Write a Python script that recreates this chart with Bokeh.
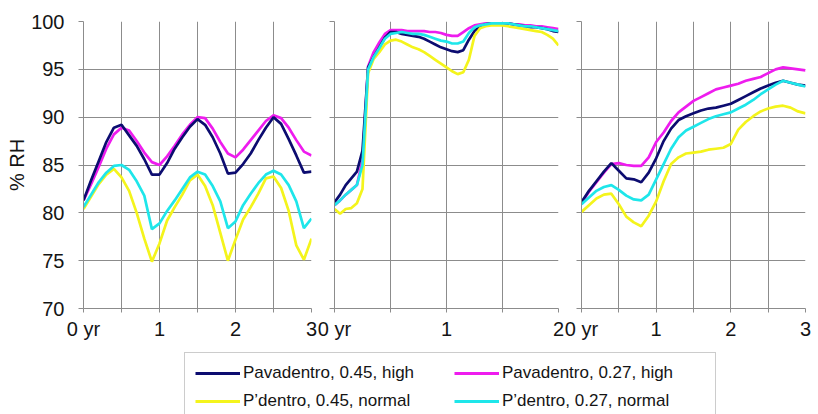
from bokeh.plotting import figure
from bokeh.models import Range1d, FixedTicker, Legend, LegendItem, CustomJSTickFormatter
from bokeh.layouts import row, column
from bokeh.embed import file_html
from bokeh.resources import INLINE

# ---------------- data ----------------
series_names = ["Pavadentro, 0.45, high", "Pavadentro, 0.27, high",
                "P\u2019dentro, 0.45, normal", "P\u2019dentro, 0.27, normal"]
y_ticks = [70, 75, 80, 85, 90, 95, 100]

# panel 1 (years 0-3)
t1 = [round(0.1 * i, 2) for i in range(31)]
navy1 = [81.3, 83.4, 85.4, 87.4, 88.9, 89.2, 88.1, 87.0, 85.6, 84.0, 84.0,
         85.2, 86.7, 87.9, 89.0, 89.8, 89.2, 87.9, 86.2, 84.1, 84.2,
         85.1, 86.2, 87.6, 88.9, 90.0, 89.3, 87.7, 86.0, 84.2, 84.3]
magenta1 = [81.3, 83.0, 84.8, 86.7, 88.2, 88.9, 88.6, 87.5, 86.3, 85.3, 85.0,
            85.9, 87.0, 88.2, 89.2, 90.0, 89.9, 88.8, 87.4, 86.2, 85.8,
            86.6, 87.6, 88.6, 89.6, 90.2, 89.9, 88.9, 87.6, 86.4, 86.0]
yellow1 = [80.4, 81.7, 83.0, 84.0, 84.6, 83.7, 82.3, 80.0, 77.3, 74.9, 76.8,
           79.2, 80.6, 81.9, 83.4, 84.0, 82.8, 80.8, 77.9, 75.0, 77.2,
           79.3, 80.6, 82.0, 83.6, 83.8, 82.6, 80.2, 76.6, 75.1, 77.3]
cyan1 = [80.6, 81.9, 83.2, 84.2, 84.9, 85.0, 84.5, 83.3, 81.8, 78.3, 78.9,
         80.2, 81.3, 82.5, 83.7, 84.3, 84.0, 82.8, 81.2, 78.4, 79.1,
         80.8, 82.0, 83.1, 84.0, 84.4, 84.0, 82.9, 81.2, 78.4, 79.4]

# panel 2 (years 0-2)
t2 = [round(0.05 * i, 2) for i in range(41)]
navy2 = [81.1, 81.9, 82.9, 83.6, 84.3, 86.5, 95.2, 96.3, 97.3, 98.3,
         98.9, 98.9, 98.7, 98.6, 98.5, 98.4, 98.2, 97.9, 97.6, 97.3,
         97.1, 96.9, 96.8, 97.0, 98.1, 99.0, 99.5, 99.7, 99.8, 99.8,
         99.8, 99.8, 99.7, 99.6, 99.5, 99.4, 99.4, 99.3, 99.2, 99.0, 98.9]
magenta2 = [80.8, 81.3, 81.9, 82.4, 82.9, 85.5, 95.3, 96.8, 97.8, 98.7,
            99.1, 99.1, 99.1, 99.0, 99.0, 99.0, 99.0, 98.9, 98.9, 98.8,
            98.6, 98.5, 98.5, 98.9, 99.3, 99.6, 99.7, 99.8, 99.8, 99.8,
            99.8, 99.8, 99.7, 99.7, 99.6, 99.6, 99.5, 99.5, 99.4, 99.3, 99.2]
yellow2 = [80.4, 79.9, 80.4, 80.5, 81.0, 82.5, 94.6, 96.1, 96.8, 97.6,
           98.0, 98.1, 97.9, 97.6, 97.3, 97.1, 96.8, 96.4, 96.0, 95.6,
           95.2, 94.8, 94.5, 94.7, 96.0, 98.5, 99.3, 99.5, 99.6, 99.6,
           99.6, 99.5, 99.4, 99.3, 99.2, 99.1, 99.0, 98.9, 98.6, 98.2, 97.5]
cyan2 = [80.8, 81.3, 81.9, 82.4, 82.9, 85.0, 95.0, 96.3, 97.2, 98.2,
         98.7, 98.8, 98.9, 98.8, 98.7, 98.7, 98.6, 98.4, 98.2, 98.0,
         97.9, 97.7, 97.7, 97.9, 98.8, 99.4, 99.6, 99.7, 99.8, 99.8,
         99.8, 99.8, 99.7, 99.6, 99.5, 99.5, 99.4, 99.3, 99.2, 99.1, 99.0]

# panel 3 (years 0-3)
t3 = [round(0.1 * i, 2) for i in range(31)]
navy3 = [81.1, 82.3, 83.3, 84.3, 85.2, 84.4, 83.6, 83.5, 83.2, 84.2, 85.7,
         87.5, 88.8, 89.7, 90.1, 90.4, 90.7, 90.9, 91.0, 91.2, 91.4,
         91.8, 92.2, 92.6, 93.0, 93.3, 93.6, 93.8, 93.6, 93.4, 93.3]
magenta3 = [81.0, 82.2, 83.2, 84.2, 85.1, 85.2, 85.0, 84.9, 84.9, 85.8, 87.4,
            88.4, 89.6, 90.5, 91.1, 91.7, 92.1, 92.5, 92.9, 93.1, 93.3,
            93.5, 93.8, 94.0, 94.2, 94.6, 95.0, 95.2, 95.1, 95.0, 94.9]
yellow3 = [80.1, 80.8, 81.5, 81.9, 82.0, 80.9, 79.6, 79.0, 78.6, 79.7, 81.2,
           83.3, 85.1, 85.8, 86.2, 86.3, 86.4, 86.6, 86.7, 86.8, 87.2,
           88.7, 89.5, 90.1, 90.6, 90.9, 91.1, 91.2, 91.0, 90.6, 90.4]
cyan3 = [80.9, 81.6, 82.3, 82.7, 82.9, 82.4, 81.8, 81.4, 81.3, 81.9, 83.5,
         85.1, 86.7, 87.9, 88.6, 89.0, 89.4, 89.8, 90.1, 90.3, 90.5,
         90.9, 91.3, 91.8, 92.4, 92.9, 93.4, 93.8, 93.6, 93.4, 93.2]

# ---------------- style ----------------
FONT = "Liberation Sans"
TXT = "#141414"
GRID = "#8c8c8c"
C_NAVY, C_MAG, C_YEL, C_CYAN = "#0c0c70", "#ee1cee", "#f4f41c", "#1ee6ea"
LW = 2.7


def make_panel(t, navy, mag, yel, cyan, xmax, first, bl, br):
    p = figure(frame_width=228 if first else 224, frame_height=287,
               x_range=Range1d(0, xmax), y_range=Range1d(70, 100),
               min_border_left=bl, min_border_right=br,
               min_border_top=21, min_border_bottom=33,
               output_backend="svg", toolbar_location=None,
               background_fill_color="white", border_fill_color="white")
    p.outline_line_color = None
    # draw order: magenta, navy, yellow, cyan
    p.line(t, mag, line_color=C_MAG, line_width=LW)
    p.line(t, navy, line_color=C_NAVY, line_width=LW)
    p.line(t, yel, line_color=C_YEL, line_width=LW)
    p.line(t, cyan, line_color=C_CYAN, line_width=LW)

    majors = list(range(0, int(xmax) + 1))
    minors = [m + 0.5 for m in range(0, int(xmax))]
    xt = FixedTicker(ticks=majors, minor_ticks=minors)
    p.xaxis.ticker = xt
    p.xgrid.ticker = xt
    p.xaxis.major_label_overrides = {0: "0 yr"}
    p.yaxis.ticker = FixedTicker(ticks=y_ticks)
    p.ygrid.ticker = FixedTicker(ticks=y_ticks)

    for g in (p.xgrid, p.ygrid):
        g.grid_line_color = GRID
        g.grid_line_width = 1
    p.xgrid.minor_grid_line_color = GRID
    p.xgrid.minor_grid_line_width = 1

    for ax in (p.xaxis, p.yaxis):
        ax.axis_line_color = GRID
        ax.major_tick_line_color = GRID
        ax.minor_tick_line_color = GRID
        ax.major_tick_in = 0
        ax.minor_tick_in = 0
        ax.major_label_text_font = FONT
        ax.major_label_text_font_size = "20px"
        ax.major_label_text_color = TXT
    p.xaxis.major_tick_out = 4
    p.xaxis.minor_tick_out = 4
    p.xaxis.major_label_standoff = 5
    p.yaxis.minor_tick_line_color = None
    p.yaxis.major_tick_out = 5
    if first:
        p.yaxis.major_label_standoff = 14
        p.yaxis.axis_label = "% RH"
        p.yaxis.axis_label_text_font = FONT
        p.yaxis.axis_label_text_font_size = "20px"
        p.yaxis.axis_label_text_font_style = "normal"
        p.yaxis.axis_label_text_color = TXT
        p.yaxis.axis_label_standoff = 0
    else:
        p.yaxis.formatter = CustomJSTickFormatter(code="return ''")
        p.yaxis.major_label_standoff = 0
    return p


p1 = make_panel(t1, navy1, magenta1, yellow1, cyan1, 3, True, 83, 6)
p2 = make_panel(t2, navy2, magenta2, yellow2, cyan2, 2, False, 17, 6)
p3 = make_panel(t3, navy3, magenta3, yellow3, cyan3, 3, False, 17, 12)

# ---------------- legend strip ----------------
lg = figure(width=817, height=72, x_range=Range1d(0, 1), y_range=Range1d(0, 1),
            x_axis_type=None, y_axis_type=None,
            min_border_left=184, min_border_top=10,
            min_border_right=0, min_border_bottom=0,
            output_backend="svg", toolbar_location=None,
            background_fill_color="white", border_fill_color="white")
lg.outline_line_color = None
colors = [C_NAVY, C_MAG, C_YEL, C_CYAN]
series_vals = [navy1, magenta1, yellow1, cyan1]
# legend glyph carriers: the series themselves, lying outside this strip's (0,1) frame
rends = [lg.line(t1, v, line_color=c, line_width=3) for v, c in zip(series_vals, colors)]
items = [LegendItem(label=series_names[i], renderers=[rends[i]]) for i in (0, 2, 1, 3)]
legend = Legend(items=items, location="top_left", ncols=2, margin=0, padding=10,
                spacing=8, glyph_width=45, glyph_height=20, label_standoff=3,
                label_width=203, label_height=20,
                label_text_font=FONT, label_text_font_size="17px",
                label_text_color=TXT, border_line_color="#9a9a9a",
                border_line_width=1, background_fill_color="white",
                background_fill_alpha=1.0)
lg.add_layout(legend)

layout = column(row(p1, p2, p3), lg)
open("out.html", "w").write(file_html(layout, INLINE))
